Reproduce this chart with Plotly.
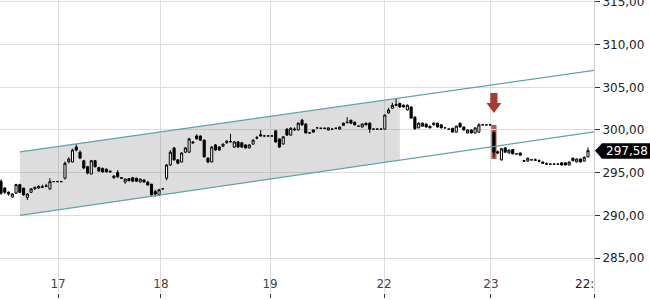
import plotly.graph_objects as go

# ---- data (half-hour candles, index = slot) ----
open_ = [294.0, 293.2, 292.7, 292.15, 292.6, 293.6, 293.2, 292.1, 292.7, 293.1,
         293.2, 293.35, 293.4, 293.1, 293.95, 293.95, 293.95, 294.35, 296.25, 296.25,
         298.0, 297.4, 296.4, 295.7, 294.85, 296.4, 295.6, 295.5, 295.4, 295.2,
         294.4, 295.0, 294.4, 293.9, 294.3, 294.4, 294.35, 293.9, 294.15, 293.9,
         293.65, 292.8, 292.4, 293.1, 294.35, 295.9, 297.9, 296.5, 296.25, 297.4,
         297.4, 298.6, 299.3, 299.3, 298.8, 296.7, 296.25, 298.25, 298.0, 298.1,
         298.5, 298.6, 298.0, 298.6, 298.5, 298.25, 297.9, 298.35, 299.05, 299.45,
         299.3, 299.3, 299.3, 299.9, 298.95, 298.35, 300.1, 299.4, 300.0, 300.0,
         301.15, 300.7, 299.65, 300.0, 300.25, 300.2, 300.2, 300.0, 300.1, 300.2,
         300.1, 300.8, 300.85, 301.15, 300.9, 300.45, 300.35, 300.8, 300.8, 300.1,
         300.1, 300.1, 300.1, 302.0, 302.55, 303.0, 303.1, 302.9, 302.35, 302.7,
         301.5, 300.25, 300.8, 300.7, 300.45, 300.6, 300.8, 300.6, 300.25, 300.1,
         300.2, 299.75, 300.8, 300.35, 299.65, 300.0, 299.65, 299.75, 300.6, 300.6,
         300.6, 299.7, 297.45, 296.5, 297.9, 297.3, 297.7, 297.2, 297.3, 296.4,
         296.35, 296.5, 296.45, 296.4, 296.25, 296.05, 296.0, 296.0, 296.0, 296.15,
         296.15, 295.9, 296.7, 296.25, 296.6, 296.35, 296.85]
high_ = [294.2, 293.3, 292.8, 292.6, 293.7, 293.7, 293.2, 292.6, 293.2, 293.3,
         293.5, 293.6, 293.7, 294.35, 293.95, 293.95, 293.95, 296.3, 296.8, 297.8,
         298.35, 297.6, 296.5, 295.8, 296.5, 296.5, 295.7, 295.6, 295.5, 295.2,
         294.7, 295.3, 294.45, 294.3, 294.35, 294.5, 294.4, 294.3, 294.2, 294.0,
         293.7, 293.0, 293.1, 293.1, 296.0, 297.65, 298.0, 296.6, 297.4, 298.0,
         299.1, 298.7, 299.5, 299.35, 298.9, 296.8, 298.1, 298.35, 298.1, 298.4,
         298.8, 299.55, 298.7, 298.7, 298.6, 298.3, 298.3, 298.9, 299.3, 300.0,
         299.3, 299.3, 299.3, 300.0, 299.0, 299.3, 300.2, 300.3, 300.3, 300.9,
         301.3, 300.8, 299.65, 300.05, 300.25, 300.2, 300.2, 300.3, 300.1, 300.2,
         300.4, 300.85, 301.5, 301.2, 301.0, 300.45, 300.75, 300.85, 300.9, 300.1,
         300.1, 300.1, 301.8, 302.6, 303.2, 303.75, 303.2, 303.0, 303.0, 302.8,
         301.6, 300.9, 300.85, 300.75, 300.5, 300.9, 300.85, 300.65, 300.25, 300.1,
         300.25, 300.5, 300.85, 300.4, 300.05, 300.05, 300.3, 300.8, 300.6, 300.6,
         300.6, 299.9, 297.6, 297.9, 298.0, 297.7, 297.75, 297.2, 297.35, 296.5,
         296.75, 296.5, 296.65, 296.55, 296.3, 296.2, 296.0, 296.0, 296.0, 296.2,
         296.2, 296.3, 296.75, 296.65, 296.65, 296.9, 297.95]
low_ = [292.4, 292.5, 292.3, 292.1, 292.5, 292.6, 292.3, 291.8, 292.6, 293.0,
        293.1, 293.2, 293.3, 293.0, 293.95, 293.95, 293.95, 294.2, 296.1, 296.2,
        297.5, 296.6, 295.4, 294.8, 294.8, 295.6, 295.1, 295.0, 295.0, 295.0,
        294.3, 294.4, 294.3, 293.7, 294.0, 293.9, 293.9, 293.85, 293.85, 293.5,
        292.3, 292.2, 292.3, 293.1, 294.1, 295.8, 296.4, 296.0, 296.2, 297.3,
        297.3, 298.4, 298.9, 298.7, 296.8, 296.1, 296.2, 297.6, 297.6, 298.0,
        298.4, 298.55, 297.9, 297.95, 297.9, 297.85, 297.85, 298.3, 298.9, 299.25,
        299.3, 299.3, 299.3, 298.5, 297.9, 298.3, 299.35, 299.35, 299.9, 299.95,
        300.5, 299.6, 299.65, 299.7, 300.25, 300.2, 300.2, 299.95, 300.1, 300.2,
        300.05, 300.5, 300.8, 300.75, 300.55, 300.45, 300.3, 300.55, 299.65, 300.1,
        300.1, 300.1, 300.05, 301.9, 302.5, 302.85, 302.6, 302.6, 302.3, 301.3,
        300.0, 300.2, 300.4, 300.3, 300.2, 300.55, 300.3, 300.2, 300.25, 300.1,
        299.7, 299.7, 300.3, 299.95, 299.6, 299.6, 299.6, 299.7, 300.6, 300.6,
        300.6, 296.8, 297.2, 296.4, 297.35, 297.25, 297.15, 297.2, 297.0, 296.3,
        296.3, 296.5, 296.35, 296.2, 296.05, 295.9, 296.0, 296.0, 296.0, 295.85,
        295.85, 295.85, 296.35, 296.2, 296.2, 296.3, 296.8]
close_ = [292.6, 292.7, 292.5, 292.5, 293.6, 292.7, 292.4, 292.5, 293.1, 293.3,
          293.4, 293.3, 293.45, 293.95, 293.95, 293.95, 293.95, 296.1, 296.6, 297.65,
          297.65, 296.7, 295.55, 294.95, 296.4, 295.7, 295.2, 295.1, 295.1, 295.1,
          294.6, 294.5, 294.35, 294.25, 294.05, 294.0, 294.0, 294.25, 293.9, 293.55,
          292.4, 292.5, 293.0, 293.1, 295.9, 297.4, 296.5, 296.1, 297.3, 297.9,
          298.95, 298.5, 298.95, 298.8, 296.85, 296.25, 298.0, 297.65, 297.65, 298.35,
          298.7, 298.65, 298.6, 298.0, 298.0, 297.9, 298.25, 298.8, 299.1, 299.3,
          299.3, 299.3, 299.3, 298.6, 298.0, 299.2, 299.4, 300.2, 300.1, 300.8,
          300.6, 299.65, 299.65, 299.75, 300.25, 300.2, 300.2, 300.25, 300.1, 300.2,
          300.35, 300.55, 300.9, 300.8, 300.6, 300.45, 300.7, 300.6, 300.1, 300.1,
          300.1, 300.1, 301.75, 302.35, 302.9, 302.9, 302.7, 302.7, 302.9, 301.4,
          300.15, 300.8, 300.45, 300.35, 300.25, 300.8, 300.35, 300.25, 300.25, 300.1,
          299.75, 300.45, 300.35, 300.0, 300.0, 299.65, 300.25, 300.6, 300.6, 300.6,
          300.6, 297.4, 297.3, 297.8, 297.4, 297.65, 297.2, 297.2, 297.05, 296.35,
          296.7, 296.5, 296.5, 296.35, 296.1, 296.0, 296.0, 296.0, 296.0, 295.9,
          295.9, 296.25, 296.4, 296.6, 296.25, 296.8, 297.58]

day_tick_slots = [15.15, 42.5, 71.5, 101.8, 130.2]
day_tick_labels = ["17", "18", "19", "22", "23"]
end_slot = 157.6
end_label = "22:"

channel_start_slot = 5.05
channel_shade_end_slot = 106.0
channel_upper = [297.44, 306.98]   # at start slot / end slot
channel_lower = [290.0, 299.77]

signal_slot = 131
signal_box = [296.6, 300.59]
last_price = 297.58

y_ticks = [285, 290, 295, 300, 305, 310, 315]
y_range = [280.9, 315.23]

slots = list(range(len(open_)))


def line_at(vals, s):
    return vals[0] + (vals[1] - vals[0]) * (s - channel_start_slot) / (end_slot - channel_start_slot)


fig = go.Figure()
fig.add_trace(go.Candlestick(
    x=slots, open=open_, high=high_, low=low_, close=close_,
    increasing=dict(line=dict(color="#000000", width=1), fillcolor="#ffffff"),
    decreasing=dict(line=dict(color="#000000", width=1), fillcolor="#000000"),
    whiskerwidth=0, hoverinfo="skip", showlegend=False,
))

shapes = []
# shaded channel
s0, s1 = channel_start_slot, channel_shade_end_slot
shapes.append(dict(
    type="path", xref="x", yref="y", layer="between",
    path=(f"M {s0},{line_at(channel_upper, s0)} L {s1},{line_at(channel_upper, s1)} "
          f"L {s1},{line_at(channel_lower, s1)} L {s0},{line_at(channel_lower, s0)} Z"),
    fillcolor="rgba(120,120,120,0.25)", line=dict(width=0),
))
for vals in (channel_upper, channel_lower):
    shapes.append(dict(type="line", xref="x", yref="y", layer="above",
                       x0=channel_start_slot, y0=vals[0], x1=end_slot, y1=vals[1],
                       line=dict(color="#5fa3a8", width=1.2)))
# red highlight behind signal candle
shapes.append(dict(type="rect", xref="x", yref="y", layer="below",
                   x0=signal_slot - 0.7, x1=signal_slot + 0.7,
                   y0=signal_box[0], y1=signal_box[1],
                   fillcolor="rgba(170,60,50,0.85)", line=dict(width=0)))
# down arrow above signal
a_top, a_mid, a_tip = 304.34, 303.16, 301.99
sw, hw = 0.95, 2.0
shapes.append(dict(
    type="path", xref="x", yref="y", layer="above",
    path=(f"M {signal_slot - sw},{a_top} L {signal_slot + sw},{a_top} L {signal_slot + sw},{a_mid} "
          f"L {signal_slot + hw},{a_mid} L {signal_slot},{a_tip} L {signal_slot - hw},{a_mid} "
          f"L {signal_slot - sw},{a_mid} Z"),
    fillcolor="#a83c33", line=dict(width=0),
))
# last price marker
shapes.append(dict(
    type="path", xref="paper", yref="y", layer="above",
    path=(f"M 1.0017,{last_price} L 1.0135,{last_price + 0.88} L 1.1,{last_price + 0.88} "
          f"L 1.1,{last_price - 0.95} L 1.0135,{last_price - 0.95} Z"),
    fillcolor="#000000", line=dict(width=0),
))

fig.update_layout(
    width=650, height=300,
    margin=dict(l=0, r=56, t=0, b=7, autoexpand=False),
    paper_bgcolor="#ffffff", plot_bgcolor="#ffffff",
    separators=",.",
    font=dict(family="DejaVu Sans", size=12, color="#222222"),
    shapes=shapes,
    boxgap=0.2,
    annotations=[
        dict(x=1.056, xref="paper", y=last_price, yref="y", text=f"{last_price:.2f}".replace(".", ","),
             showarrow=False, font=dict(color="#ffffff", size=12, family="DejaVu Sans"),
             xanchor="center", yanchor="middle"),
        dict(x=1.0, xref="paper", y=0.0, yref="paper", text=end_label, showarrow=False,
             xanchor="right", yanchor="bottom", yshift=0, xshift=2,
             font=dict(size=12, color="#222222", family="DejaVu Sans")),
    ],
    xaxis=dict(
        range=[-0.27, end_slot], rangeslider=dict(visible=False), automargin=False,
        tickmode="array", tickvals=day_tick_slots + [end_slot], ticktext=day_tick_labels + [""],
        ticklabelposition="inside", ticks="outside", ticklen=4, tickcolor="#333333",
        showgrid=True, gridcolor="#dcdcdc", gridwidth=1, zeroline=False, showline=False,
        fixedrange=True,
    ),
    yaxis=dict(
        side="right", range=y_range, tickmode="array", tickvals=y_ticks, tickformat=".2f",
        ticks="outside", ticklen=5, tickcolor="#333333", ticklabeloverflow="allow",
        automargin=False,
        showgrid=True, gridcolor="#dcdcdc", gridwidth=1, zeroline=False,
        showline=True, linecolor="#d0d0d0", linewidth=1,
    ),
)

fig.write_html("out.html")
